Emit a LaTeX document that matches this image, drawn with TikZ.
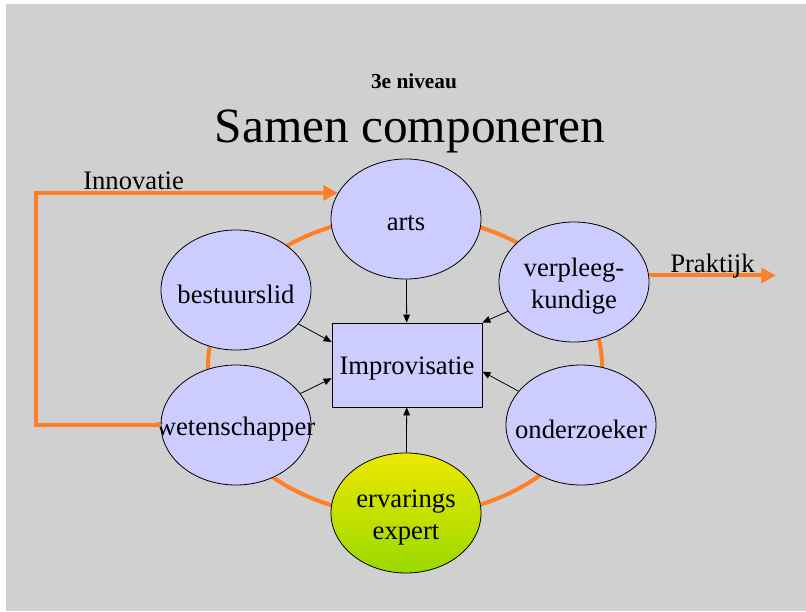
\documentclass[tikz,border=0pt]{standalone}
\usepackage{fontspec}
\setmainfont{Liberation Serif}
\usetikzlibrary{shapes.geometric,arrows.meta}

\definecolor{slidegray}{RGB}{208,208,208}
\definecolor{lavendel}{RGB}{204,204,255}
\definecolor{oranje}{RGB}{255,127,39}
\definecolor{geel}{RGB}{238,232,0}
\definecolor{groen}{RGB}{153,217,0}

\tikzset{
  rol/.style={ellipse, draw=black, line width=0.6pt, fill=lavendel,
    minimum width=112.5pt, minimum height=90pt, inner sep=0pt},
  roltekst/.style={align=center, font=\fontsize{20}{24}\selectfont},
  midtekst/.style={roltekst, yshift=-3pt},
  pijl/.style={-{Triangle[length=6pt,width=5pt]}, line width=0.6pt},
  flow/.style={draw=oranje, line width=3pt, -{Triangle[length=11pt,width=11pt]}},
}

\begin{document}
\begin{tikzpicture}[x=0.75pt,y=-0.75pt]
\useasboundingbox (0,0) rectangle (806,611);
\fill[slidegray] (6,4) rectangle (806,611);

% titel
\node[font=\bfseries\fontsize{16}{19}\selectfont, anchor=base] (niveau) at (414,88) {3e niveau};
\node[font=\fontsize{37}{44}\selectfont, anchor=base] (titel) at (410,142) {Samen componeren};

% kring achter de rollen
\draw[oranje, line width=3pt] (405,366) ellipse [x radius=197, y radius=150];

% rollen
\node[rol, label={[midtekst]center:arts}] (arts) at (406,219) {};
\node[rol, label={[midtekst]center:bestuurslid}] (bestuur) at (236,290) {};
\node[rol, label={[midtekst]center:verpleeg-\\kundige}] (verpleeg) at (574,282) {};
\node[rol, label={[midtekst]center:wetenschapper}] (wet) at (236,425) {};
\node[rol, label={[midtekst]center:onderzoeker}] (onderz) at (581,425) {};
\node[rol, top color=geel, bottom color=groen,
  label={[midtekst]center:ervarings\\expert}] (expert) at (406,513) {};

\node[draw=black, line width=0.6pt, fill=lavendel, minimum width=112.5pt,
  minimum height=63pt, label={[midtekst]center:Improvisatie}] (impro) at (407,365) {};

% pijlen naar het midden
\draw[pijl] (arts) -- (impro);
\draw[pijl] (bestuur) -- (impro.163);
\draw[pijl] (verpleeg) -- (impro.north east);
\draw[pijl] (wet) -- (impro.190);
\draw[pijl] (onderz) -- (impro.355);
\draw[pijl] (expert) -- (impro);

% innovatie en praktijk
\draw[flow] (wet.west) -- ++(-125,0) |- (arts.159);
\node[roltekst, anchor=base west, inner sep=0pt] (innovatie) at (83,189) {Innovatie};
\draw[flow] (verpleeg.5) -- ++(127,0);
\node[roltekst, anchor=base west, inner sep=0pt] (praktijk) at (670,272) {Praktijk};
\end{tikzpicture}
\end{document}
